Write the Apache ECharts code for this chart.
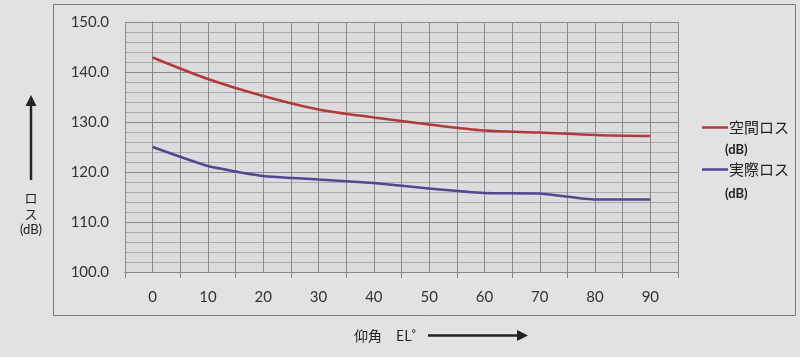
<!DOCTYPE html>
<html><head><meta charset="utf-8">
<script src="https://cdn.jsdelivr.net/npm/echarts@6/dist/echarts.min.js"></script>
<style>html,body{margin:0;padding:0;background:#e2e1e4;}#c{width:800px;height:357px;}</style>
</head><body><div id="c"></div>
<script>
const categories = ['0','10','20','30','40','50','60','70','80','90'];
const spaceLoss = [142.9, 138.6, 135.2, 132.5, 130.9, 129.5, 128.3, 127.9, 127.4, 127.2];
const actualLoss = [125.0, 121.2, 119.2, 118.5, 117.8, 116.7, 115.8, 115.7, 114.5, 114.5];
const seriesNames = ['空間ロス', '実際ロス'];
const yTitle = ['ロ', 'ス', '(dB)'];
const xTitle = '仰角　EL˚';

const chart = echarts.init(document.getElementById('c'));
const numFont = 'Lato, "Open Sans", sans-serif';
const jpFont = '"Noto Sans CJK JP", sans-serif';
chart.setOption({
  backgroundColor: '#e2e1e4',
  animation: false,
  grid: { left: 125, right: 122, top: 22, bottom: 85, show: true, backgroundColor: '#dcdbde', borderWidth: 0 },
  legend: {
    orient: 'vertical', left: 697, top: 115, itemGap: 27,
    icon: 'rect', itemWidth: 26, itemHeight: 2.5,
    textStyle: { fontFamily: jpFont, fontSize: 15, color: '#222', padding: [0,0,0,-4] },
    data: seriesNames
  },
  xAxis: [
    { type: 'value', min: -5, max: 95, interval: 5,
      axisLine: { show: true, lineStyle: { color: '#888' } },
      axisTick: { show: false }, axisLabel: { show: false },
      splitLine: { show: true, lineStyle: { color: '#8a8a8a', width: 1 } } },
    { type: 'category', data: categories, boundaryGap: true, position: 'bottom',
      axisLine: { show: false },
      axisTick: { show: true, length: 6, lineStyle: { color: '#888' } },
      axisLabel: { margin: 18, fontFamily: numFont, fontSize: 15, color: '#333' },
      splitLine: { show: false } }
  ],
  yAxis: {
    type: 'value', min: 100, max: 150, interval: 10,
    axisLine: { show: true, lineStyle: { color: '#888' } },
    axisTick: { show: true, length: 6, lineStyle: { color: '#888' } },
    axisLabel: { margin: 16, fontFamily: numFont, fontSize: 15, color: '#333',
      formatter: v => v.toFixed(1) },
    splitLine: { show: true, lineStyle: { color: '#8a8a8a' } },
    minorTick: { show: false, splitNumber: 5 },
    minorSplitLine: { show: true, lineStyle: { color: '#ababad' } }
  },
  series: [
    { name: seriesNames[0], type: 'line', xAxisIndex: 1, data: spaceLoss, smooth: 0.3,
      symbol: 'none', lineStyle: { color: '#b23a3a', width: 2.5 }, itemStyle: { color: '#b23a3a' } },
    { name: seriesNames[1], type: 'line', xAxisIndex: 1, data: actualLoss, smooth: 0.15,
      symbol: 'none', lineStyle: { color: '#55468f', width: 2.5 }, itemStyle: { color: '#55468f' } }
  ],
  graphic: [
    { type: 'rect', shape: { x: 53.5, y: 4.5, width: 742, height: 311 }, silent: true, z: -1,
      style: { fill: null, stroke: '#7a7a7a', lineWidth: 1 } },
    { type: 'text', left: 725, top: 143, style: { text: '(dB)', fontFamily: numFont, fontWeight: 'bold', fontSize: 13, fill: '#222' } },
    { type: 'text', left: 725, top: 187, style: { text: '(dB)', fontFamily: numFont, fontWeight: 'bold', fontSize: 13, fill: '#222' } },
    // y title arrow
    { type: 'line', shape: { x1: 31, y1: 180, x2: 31, y2: 100 }, style: { stroke: '#222', lineWidth: 2.5 } },
    { type: 'polygon', shape: { points: [[31, 95], [25.5, 106], [36.5, 106]] }, style: { fill: '#222' } },
    { type: 'text', x: 31, y: 198, style: { text: yTitle[0], align: 'center', verticalAlign: 'middle', fontFamily: jpFont, fontSize: 13, fill: '#222' } },
    { type: 'text', x: 31, y: 214, style: { text: yTitle[1], align: 'center', verticalAlign: 'middle', fontFamily: jpFont, fontSize: 13, fill: '#222' } },
    { type: 'text', x: 31, y: 230, style: { text: yTitle[2], align: 'center', verticalAlign: 'middle', fontFamily: numFont, fontSize: 13, fill: '#222' } },
    // x title arrow
    { type: 'text', x: 354, y: 336, style: { text: xTitle, align: 'left', verticalAlign: 'middle', fontFamily: jpFont, fontSize: 14, fill: '#222' } },
    { type: 'line', shape: { x1: 428, y1: 335.5, x2: 520, y2: 335.5 }, style: { stroke: '#222', lineWidth: 2.5 } },
    { type: 'polygon', shape: { points: [[528, 335.5], [517, 330], [517, 341]] }, style: { fill: '#222' } }
  ]
});
</script></body></html>
